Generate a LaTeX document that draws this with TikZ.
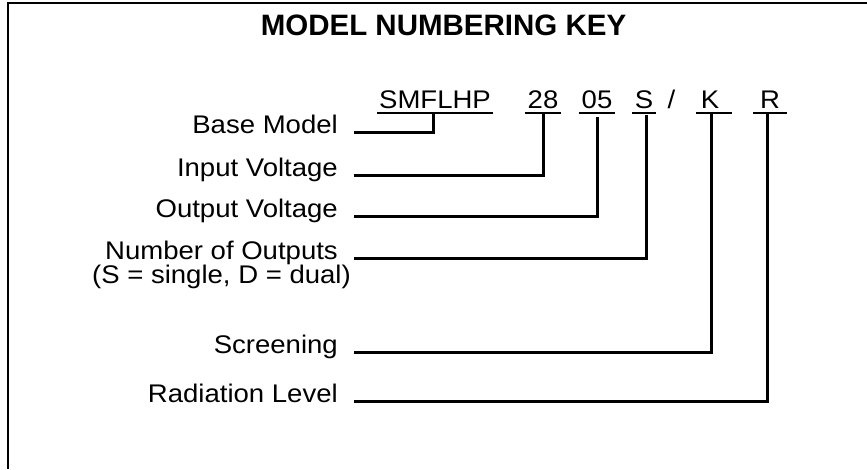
\documentclass[tikz,border=0pt]{standalone}
\usepackage{fontspec}
\setmainfont{Liberation Sans}[FakeStretch=1.08]
\newfontfamily\titlefont{Liberation Sans}
\begin{document}
\begin{tikzpicture}[x=1pt,y=-1pt,
  lbl/.style={anchor=base east,inner sep=0pt,font=\fontsize{25.5}{24}\selectfont},
  codepart/.style={anchor=base,inner xsep=0pt,inner ysep=4.5pt,text depth=0pt,font=\fontsize{25.5}{24}\selectfont},
  conn/.style={line width=3pt},
  ul/.style={line width=2pt},
  frame/.style={line width=1.5pt}]
\useasboundingbox (0,0) rectangle (867,469);
\draw[frame] (8,469) -- (8,3) -- (867,3);
\node[anchor=base,inner sep=0pt,font=\titlefont\bfseries\fontsize{29.5}{30}\selectfont] (title) at (443.5,35) {MODEL NUMBERING KEY};
% code parts
\node[codepart,minimum width=116pt] (smflhp) at (435,108) {SMFLHP};
\node[codepart,minimum width=36pt] (c28) at (543,108) {28};
\node[codepart,minimum width=36pt] (c05) at (597,108) {05};
\node[codepart,minimum width=24pt] (cS) at (644,108) {S};
\node[codepart] (slash) at (671.5,108) {/};
\node[codepart,minimum width=36pt] (cK) at (714,108) {K\kern8pt};
\node[codepart,minimum width=34pt] (cR) at (770,108) {R};
\foreach \n in {smflhp,c28,c05,cS,cK,cR}
  \draw[ul] (\n.south west) -- (\n.south east);
% labels
\node[lbl] (bm) at (338,133) {Base Model};
\node[lbl] (iv) at (338,176) {Input Voltage};
\node[lbl] (ov) at (338,217) {Output Voltage};
\node[lbl] (no) at (338,259) {Number of Outputs};
\node[anchor=base,inner sep=0pt,font=\fontsize{25.5}{24}\selectfont] (no2) at ([yshift=-24pt]no.base) {(S = single, D = dual)};
\node[lbl] (sc) at (338,353) {Screening};
\node[lbl] (rl) at (338,402) {Radiation Level};
% connectors
\draw[conn] ([xshift=16pt,yshift=1pt]bm.base east) -| ([xshift=-2pt]smflhp.south);
\draw[conn] ([xshift=16pt,yshift=1pt]iv.base east) -| (c28.south);
\draw[conn] ([xshift=16pt,yshift=1pt]ov.base east) -| ([yshift=-4pt]c05.south);
\draw[conn] ([xshift=16pt,yshift=1pt]no.base east) -| ([xshift=2pt,yshift=-2pt]cS.south);
\draw[conn] ([xshift=16pt,yshift=1pt]sc.base east) -| ([xshift=-3pt]cK.south);
\draw[conn] ([xshift=16pt,yshift=1pt]rl.base east) -| ([xshift=-3pt]cR.south);
\end{tikzpicture}
\end{document}
